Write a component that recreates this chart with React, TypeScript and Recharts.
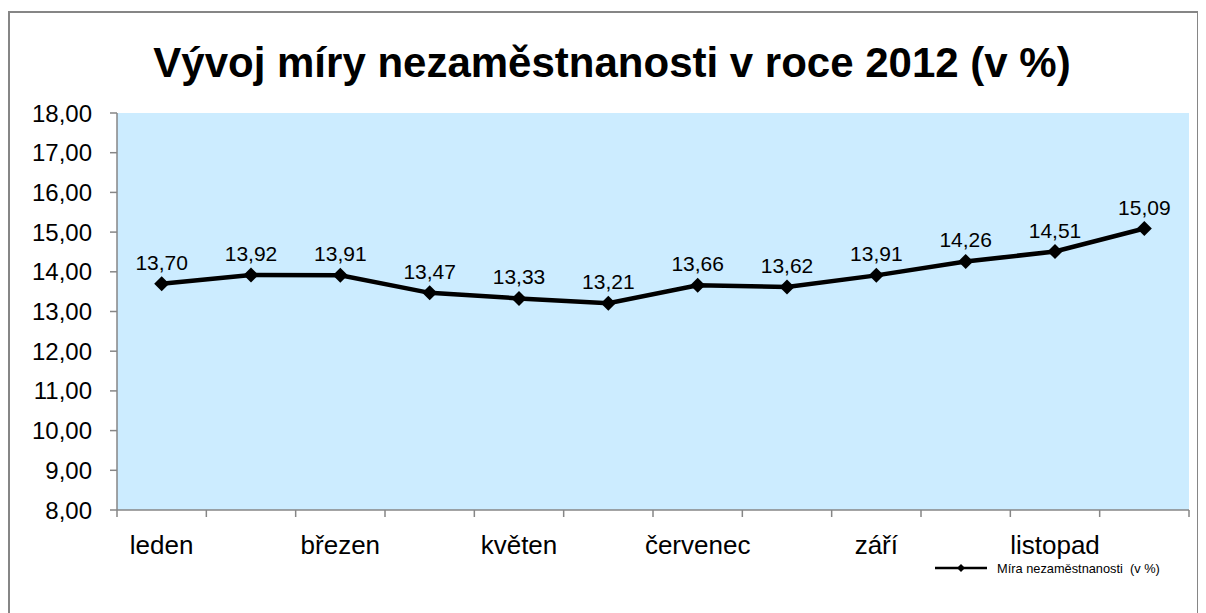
import React from "react";
import {
  LineChart,
  Line,
  XAxis,
  YAxis,
  CartesianGrid,
  LabelList,
} from "recharts";

const months = [
  "leden",
  "únor",
  "březen",
  "duben",
  "květen",
  "červen",
  "červenec",
  "srpen",
  "září",
  "říjen",
  "listopad",
  "prosinec",
];
const rates = [13.7, 13.92, 13.91, 13.47, 13.33, 13.21, 13.66, 13.62, 13.91, 14.26, 14.51, 15.09];
const yTicks = [8, 9, 10, 11, 12, 13, 14, 15, 16, 17, 18];
const boundaryTicks = [0, 1, 2, 3, 4, 5, 6, 7, 8, 9, 10, 11, 12];

const seriesName = "Míra nezaměstnanosti  (v %)";
const title = "Vývoj míry nezaměstnanosti v roce 2012 (v %)";

const data = months.map((m, i) => ({ month: m, value: rates[i], i: i + 0.5 }));

const FONT = "'Liberation Sans', Arial, Helvetica, sans-serif";
const GRAY = "#868686";

const fmt = (v: number) => v.toFixed(2).replace(".", ",");

const Diamond = (props: any) => {
  const { cx, cy } = props;
  if (cx == null || cy == null) return null;
  const r = 7.5;
  return (
    <polygon
      points={`${cx},${cy - r} ${cx + r},${cy} ${cx},${cy + r} ${cx - r},${cy}`}
      fill="#000"
    />
  );
};

const EmptyTick = () => <g />;

export default function App() {
  return (
    <div style={{ position: "relative", width: 1190, height: 605, fontFamily: FONT }}>
      <div
        style={{
          position: "absolute",
          left: 0,
          top: 3,
          width: 1191,
          height: 620,
          border: `2px solid ${GRAY}`,
          boxSizing: "border-box",
        }}
      />
      <div
        style={{
          position: "absolute",
          left: 0,
          width: 1208,
          top: 31,
          height: 48,
          lineHeight: "48px",
          textAlign: "center",
          fontWeight: "bold",
          fontSize: 42,
          color: "#000",
        }}
      >
        {title}
      </div>
      <LineChart
        width={1190}
        height={605}
        data={data}
        margin={{ top: 105, right: 9, bottom: 63, left: 0 }}
        style={{ position: "absolute", left: 0, top: 0 }}
      >
        <CartesianGrid fill="#CCECFF" stroke="none" horizontal={false} vertical={false} />
        <XAxis
          xAxisId="b"
          type="number"
          dataKey="i"
          domain={[0, 12]}
          ticks={boundaryTicks}
          interval={0}
          tick={<EmptyTick />}
          tickSize={7}
          tickLine={{ stroke: GRAY, strokeWidth: 1.5 }}
          axisLine={{ stroke: GRAY, strokeWidth: 1.5 }}
          height={1}
          allowDataOverflow
        />
        <XAxis
          xAxisId="cat"
          dataKey="month"
          type="category"
          scale="band"
          interval={1}
          tickLine={false}
          axisLine={false}
          tickSize={0}
          tickMargin={25}
          height={39}
          tick={{ fill: "#000", fontSize: 26, fontFamily: FONT }}
        />
        <YAxis
          domain={[8, 18]}
          ticks={yTicks}
          width={109}
          tickSize={7}
          tickMargin={18}
          tickFormatter={fmt}
          tick={{ fill: "#000", fontSize: 24, fontFamily: FONT }}
          tickLine={{ stroke: GRAY, strokeWidth: 1.5 }}
          axisLine={{ stroke: GRAY, strokeWidth: 1.5 }}
          allowDataOverflow
        />
        <Line
          xAxisId="cat"
          type="linear"
          dataKey="value"
          name={seriesName}
          stroke="#000"
          strokeWidth={4.5}
          dot={<Diamond />}
          activeDot={false}
          isAnimationActive={false}
        >
          <LabelList
            dataKey="value"
            position="top"
            offset={14}
            formatter={(v: any) => fmt(Number(v))}
            style={{ fill: "#000", fontSize: 21, fontFamily: FONT }}
          />
        </Line>
      </LineChart>
      <div
        style={{
          position: "absolute",
          left: 927,
          top: 552,
          height: 16,
          display: "flex",
          alignItems: "center",
          fontSize: 12.8,
          color: "#000",
          whiteSpace: "pre",
        }}
      >
        <svg width={56} height={12} style={{ marginRight: 6 }}>
          <line x1={0} y1={6} x2={52} y2={6} stroke="#000" strokeWidth={2.5} />
          <polygon points="26,2 30,6 26,10 22,6" fill="#000" />
        </svg>
        <span>{seriesName}</span>
      </div>
    </div>
  );
}
